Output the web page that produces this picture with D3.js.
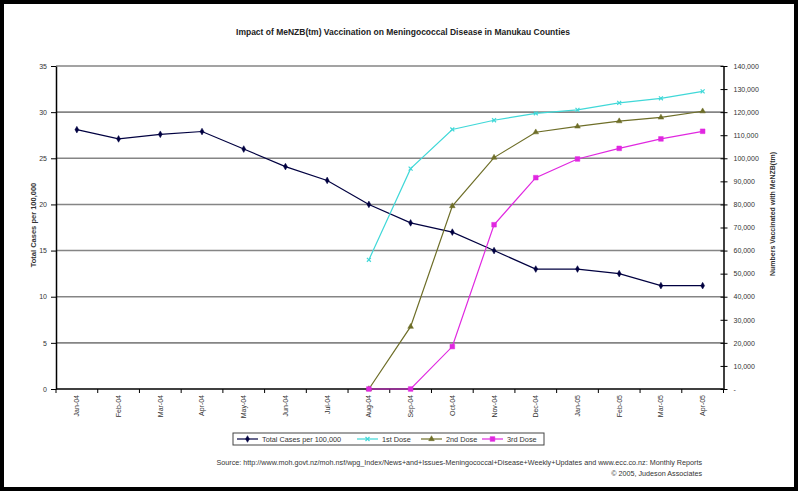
<!DOCTYPE html>
<html>
<head>
<meta charset="utf-8">
<script src="https://cdn.jsdelivr.net/npm/d3@7"></script>
<style>
  body { margin: 0; background: #fff; }
  svg { display: block; font-family: "Liberation Sans", Arial, sans-serif; }
</style>
</head>
<body>
<svg id="chart" width="798" height="491"></svg>
<script>
// Monthly categories
const months = ["Jan-04","Feb-04","Mar-04","Apr-04","May-04","Jun-04","Jul-04","Aug-04",
                "Sep-04","Oct-04","Nov-04","Dec-04","Jan-05","Feb-05","Mar-05","Apr-05"];

// Total meningococcal cases per 100,000 (left axis)
const totalCases = [28.1, 27.1, 27.6, 27.9, 26.0, 24.1, 22.6, 20.0,
                    18.0, 17.0, 15.0, 13.0, 13.0, 12.5, 11.2, 11.2];

// Cumulative numbers vaccinated (right axis); null before the programme began
const dose1 = [null, null, null, null, null, null, null, 56000,
               95500, 112500, 116500, 119500, 121000, 124000, 126000, 129000];
const dose2 = [null, null, null, null, null, null, null, 0,
               27000, 79300, 100300, 111300, 113800, 116100, 117700, 120400];
const dose3 = [null, null, null, null, null, null, null, 0,
               0, 18400, 71200, 91600, 99700, 104300, 108400, 111700];

const leftTicks = [0, 5, 10, 15, 20, 25, 30, 35];
const rightTicks = [0, 10000, 20000, 30000, 40000, 50000, 60000, 70000,
                    80000, 90000, 100000, 110000, 120000, 130000, 140000];

const svg = d3.select("#chart");
const W = 798, H = 491;
const plot = { left: 56, right: 723.5, top: 66, bottom: 389 };

// Outer frame
svg.append("rect").attr("x", 2).attr("y", 2).attr("width", W - 4).attr("height", H - 4)
  .attr("fill", "#fff").attr("stroke", "#000").attr("stroke-width", 4);

const x = d3.scaleBand().domain(months).range([plot.left, plot.right]);
const y = d3.scaleLinear().domain([0, 35]).range([plot.bottom, plot.top]);
const y2 = d3.scaleLinear().domain([0, 140000]).range([plot.bottom, plot.top]);
const cx = d => x(d) + x.bandwidth() / 2;

// Title
svg.append("text").attr("x", 403).attr("y", 35).attr("text-anchor", "middle")
  .attr("font-size", 8.5).attr("font-weight", "bold").attr("fill", "#222")
  .text("Impact of MeNZB(tm) Vaccination on Meningococcal Disease in Manukau Counties");

// Horizontal gridlines
svg.append("g").selectAll("line").data(leftTicks.filter(d => d > 0)).join("line")
  .attr("x1", plot.left).attr("x2", plot.right)
  .attr("y1", d => y(d)).attr("y2", d => y(d))
  .attr("stroke", "#858585").attr("stroke-width", 1.6);

// Left axis
const gL = svg.append("g").attr("transform", `translate(${plot.left},0)`)
  .call(d3.axisLeft(y).tickValues(leftTicks).tickSize(5).tickSizeOuter(0).tickPadding(4));
gL.select(".domain").attr("stroke", "#000").attr("stroke-width", 1.5);
gL.selectAll(".tick line").attr("stroke", "#000");
gL.selectAll(".tick text").attr("font-size", 7).attr("fill", "#333")
  .attr("font-family", "Liberation Sans, Arial, sans-serif");

// Right axis
const gR = svg.append("g").attr("transform", `translate(${plot.right},0)`)
  .call(d3.axisRight(y2).tickValues(rightTicks).tickSize(4).tickSizeOuter(0).tickPadding(6)
    .tickFormat(d => d === 0 ? "-" : d3.format(",")(d)));
gR.select(".domain").attr("stroke", "#000").attr("stroke-width", 1.5);
gR.selectAll(".tick line").attr("stroke", "#000").attr("x1", -3);
gR.selectAll(".tick text").attr("font-size", 7).attr("fill", "#333")
  .attr("font-family", "Liberation Sans, Arial, sans-serif");

// Bottom category axis
svg.append("line").attr("x1", plot.left).attr("x2", plot.right)
  .attr("y1", plot.bottom).attr("y2", plot.bottom)
  .attr("stroke", "#000").attr("stroke-width", 1.5);
svg.append("g").selectAll("line").data(d3.range(months.length + 1)).join("line")
  .attr("x1", i => plot.left + i * x.step()).attr("x2", i => plot.left + i * x.step())
  .attr("y1", plot.bottom).attr("y2", plot.bottom + 4)
  .attr("stroke", "#000");
svg.append("g").selectAll("text").data(months).join("text")
  .attr("transform", d => `translate(${cx(d)},${plot.bottom + 6}) rotate(-90)`)
  .attr("text-anchor", "end").attr("dy", "0.35em")
  .attr("font-size", 7).attr("fill", "#333").text(d => d);

// Axis titles
svg.append("text").attr("transform", "translate(33,225) rotate(-90)")
  .attr("text-anchor", "middle").attr("dy", "0.35em")
  .attr("font-size", 7.5).attr("font-weight", "bold").attr("fill", "#333")
  .text("Total Cases per 100,000");
svg.append("text").attr("transform", "translate(773,214) rotate(-90)")
  .attr("text-anchor", "middle").attr("dy", "0.35em")
  .attr("font-size", 7).attr("font-weight", "bold").attr("fill", "#333")
  .text("Numbers Vaccinated with MeNZB(tm)");

// Series definitions
const series = [
  { name: "Total Cases per 100,000", values: totalCases, scale: y, color: "#000040", marker: d3.symbolDiamond, size: 13, filled: true },
  { name: "1st Dose", values: dose1, scale: y2, color: "#40d8d8", marker: d3.symbolTimes, size: 12, filled: false },
  { name: "2nd Dose", values: dose2, scale: y2, color: "#6e6e28", marker: d3.symbolTriangle, size: 14, filled: true },
  { name: "3rd Dose", values: dose3, scale: y2, color: "#e028e0", marker: d3.symbolSquare, size: 22, filled: true }
];

const sym = s => d3.symbol().type(s.marker).size(s.size)();

series.forEach(s => {
  const pts = months.map((m, i) => ({ m, v: s.values[i] }));
  const line = d3.line().defined(d => d.v != null).x(d => cx(d.m)).y(d => s.scale(d.v));
  svg.append("path").datum(pts).attr("d", line)
    .attr("fill", "none").attr("stroke", s.color).attr("stroke-width", 1.2);
  svg.append("g").selectAll("path").data(pts.filter(d => d.v != null)).join("path")
    .attr("transform", d => `translate(${cx(d.m)},${s.scale(d.v)})`)
    .attr("d", sym(s))
    .attr("fill", s.filled ? s.color : "none")
    .attr("stroke", s.color).attr("stroke-width", s.filled ? 0.5 : 1.2);
});

// Legend
const lg = svg.append("g");
lg.append("rect").attr("x", 233).attr("y", 433).attr("width", 311).attr("height", 12)
  .attr("fill", "#fff").attr("stroke", "#444").attr("stroke-width", 1);
const legendPos = [237, 357, 421, 482];
series.forEach((s, i) => {
  const x0 = legendPos[i];
  lg.append("line").attr("x1", x0).attr("x2", x0 + 21).attr("y1", 439).attr("y2", 439)
    .attr("stroke", s.color).attr("stroke-width", 1.2);
  lg.append("path").attr("transform", `translate(${x0 + 10.5},439)`).attr("d", sym(s))
    .attr("fill", s.filled ? s.color : "none").attr("stroke", s.color)
    .attr("stroke-width", s.filled ? 0.5 : 1.2);
  lg.append("text").attr("x", x0 + 25).attr("y", 439).attr("dy", "0.35em")
    .attr("font-size", 7.3).attr("fill", "#333").text(s.name);
});

// Source note
svg.append("text").attr("x", 702).attr("y", 465).attr("text-anchor", "end")
  .attr("font-size", 7.2).attr("fill", "#333")
  .text("Source: http://www.moh.govt.nz/moh.nsf/wpg_Index/News+and+Issues-Meningococcal+Disease+Weekly+Updates and www.ecc.co.nz: Monthly Reports");
svg.append("text").attr("x", 702).attr("y", 476).attr("text-anchor", "end")
  .attr("font-size", 7.2).attr("fill", "#333")
  .text("© 2005, Judeson Associates");
</script>
</body>
</html>
